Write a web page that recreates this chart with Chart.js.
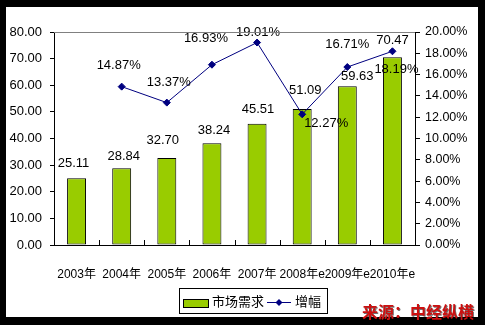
<!DOCTYPE html>
<html>
<head>
<meta charset="utf-8">
<script src="https://cdn.jsdelivr.net/npm/chart.js@4.4.0/dist/chart.umd.min.js"></script>
<style>
    html, body { margin: 0; padding: 0; background: #000; }
    #wrap { position: relative; width: 485px; height: 325px; }
</style>
</head>
<body>
<div id="wrap"><canvas id="demandChart" width="485" height="325"></canvas></div>
<script>
// 市场需求（左轴）与增幅（右轴）
const years = ['2003年', '2004年', '2005年', '2006年', '2007年', '2008年e', '2009年e', '2010年e'];
const demand = [25.11, 28.84, 32.70, 38.24, 45.51, 51.09, 59.63, 70.47];
const growth = [null, 14.87, 13.37, 16.93, 19.01, 12.27, 16.71, 18.19];

// label nudges (px) so the value labels don't collide
const barLabelDx = [-3, 2, -4, 2, 1, 3, 10, 0];
const barLabelDy = [-15, -12, -18, -13, -14, -19, -10, -17];
const lineLabelDx = [0, -3, 2, -6, 1, 24, 0, 4];
const lineLabelDy = [0, -21, -20, -26, -10, 9, -23, 18];

const FONT = '"Liberation Sans", Arial, "Noto Sans CJK SC", sans-serif';
const GREEN = '#99cc00';
const NAVY = '#000080';

const framePlugin = {
    id: 'frame',
    beforeDraw(chart) {
        const ctx = chart.ctx;
        ctx.save();
        ctx.fillStyle = '#000';
        ctx.fillRect(0, 0, chart.width, chart.height);
        ctx.fillStyle = '#fff';
        ctx.fillRect(6, 7, 472, 310);
        ctx.restore();
    },
    afterDraw(chart) {
        const ctx = chart.ctx;
        const area = chart.chartArea;
        const x = chart.scales.x;
        ctx.save();

        // grey top edge of the plot
        ctx.strokeStyle = '#808080';
        ctx.lineWidth = 1;
        ctx.beginPath();
        ctx.moveTo(area.left, Math.round(area.top) + 0.5);
        ctx.lineTo(area.right, Math.round(area.top) + 0.5);
        ctx.stroke();

        // category separators pointing up into the plot
        ctx.strokeStyle = '#000';
        ctx.beginPath();
        for (let i = 1; i < years.length; i++) {
            const px = Math.round((x.getPixelForValue(i - 1) + x.getPixelForValue(i)) / 2) + 0.5;
            ctx.moveTo(px, area.bottom);
            ctx.lineTo(px, area.bottom - 5);
        }
        ctx.stroke();

        // legend
        const barSet = chart.data.datasets[0];
        const lineSet = chart.data.datasets[1];
        ctx.strokeStyle = '#000';
        ctx.strokeRect(179.5, 288.5, 148, 25);
        ctx.fillStyle = GREEN;
        ctx.fillRect(183.5, 299.5, 25, 8);
        ctx.strokeRect(183.5, 299.5, 25, 8);
        ctx.fillStyle = '#000';
        ctx.font = '13px ' + FONT;
        ctx.textBaseline = 'middle';
        ctx.textAlign = 'left';
        ctx.fillText(barSet.label, 212, 302);
        ctx.strokeStyle = NAVY;
        ctx.beginPath();
        ctx.moveTo(267, 302.5);
        ctx.lineTo(291, 302.5);
        ctx.stroke();
        ctx.fillStyle = NAVY;
        ctx.beginPath();
        ctx.moveTo(279, 299);
        ctx.lineTo(282.5, 302.5);
        ctx.lineTo(279, 306);
        ctx.lineTo(275.5, 302.5);
        ctx.closePath();
        ctx.fill();
        ctx.fillStyle = '#000';
        ctx.fillText(lineSet.label, 295, 302);

        // source note
        ctx.font = 'bold 16px "Noto Sans CJK SC", sans-serif';
        ctx.shadowColor = 'rgba(0,0,0,0.55)';
        ctx.shadowOffsetX = 1;
        ctx.shadowOffsetY = 1;
        ctx.fillStyle = '#cc1010';
        ctx.fillText('来源：中经纵横', 362, 312);
        ctx.restore();
    }
};

const valueLabels = {
    id: 'valueLabels',
    afterDatasetsDraw(chart) {
        const ctx = chart.ctx;
        ctx.save();
        ctx.font = '13px ' + FONT;
        ctx.fillStyle = '#000';
        ctx.textAlign = 'center';
        ctx.textBaseline = 'middle';
        chart.getDatasetMeta(0).data.forEach((bar, i) => {
            ctx.fillText(demand[i].toFixed(2), bar.x + barLabelDx[i], bar.y + barLabelDy[i]);
        });
        chart.getDatasetMeta(1).data.forEach((pt, i) => {
            if (growth[i] === null) return;
            ctx.fillText(growth[i].toFixed(2) + '%', pt.x + lineLabelDx[i], pt.y + lineLabelDy[i]);
        });
        ctx.restore();
    }
};

new Chart(document.getElementById('demandChart'), {
    type: 'bar',
    data: {
        labels: years,
        datasets: [
            {
                type: 'bar',
                label: '市场需求',
                data: demand,
                yAxisID: 'y',
                backgroundColor: GREEN,
                borderColor: '#000',
                borderWidth: 1,
                borderSkipped: false,
                categoryPercentage: 1,
                barPercentage: 0.42,
                order: 2
            },
            {
                type: 'line',
                label: '增幅',
                data: growth,
                yAxisID: 'y1',
                borderColor: NAVY,
                borderWidth: 1,
                backgroundColor: NAVY,
                pointStyle: 'rectRot',
                pointRadius: 3.5,
                pointBackgroundColor: NAVY,
                pointBorderColor: NAVY,
                tension: 0,
                spanGaps: false,
                order: 1
            }
        ]
    },
    options: {
        responsive: false,
        animation: false,
        devicePixelRatio: 1,
        layout: { padding: { top: 32, left: 0, right: 0, bottom: 0 } },
        plugins: {
            legend: { display: false },
            tooltip: { enabled: false }
        },
        scales: {
            x: {
                offset: true,
                grid: { display: false },
                border: { color: '#000' },
                ticks: { color: '#000', font: { family: FONT, size: 12 }, padding: 14, maxRotation: 0, autoSkip: false },
                afterFit: s => { s.height = 80; }
            },
            y: {
                position: 'left',
                min: 0,
                max: 80,
                ticks: { stepSize: 10, callback: v => v.toFixed(2), color: '#000', font: { family: FONT, size: 13 }, padding: 8 },
                grid: { drawOnChartArea: false, tickLength: 4, color: '#000' },
                border: { color: '#000' },
                afterFit: s => { s.width = 54; }
            },
            y1: {
                position: 'right',
                min: 0,
                max: 20,
                ticks: { stepSize: 2, callback: v => v.toFixed(2) + '%', color: '#000', font: { family: FONT, size: 12.5 }, padding: 5 },
                grid: { drawOnChartArea: false, tickLength: 5, color: '#000' },
                border: { color: '#000' },
                afterFit: s => { s.width = 70; }
            }
        }
    },
    plugins: [framePlugin, valueLabels]
});
</script>
</body>
</html>
